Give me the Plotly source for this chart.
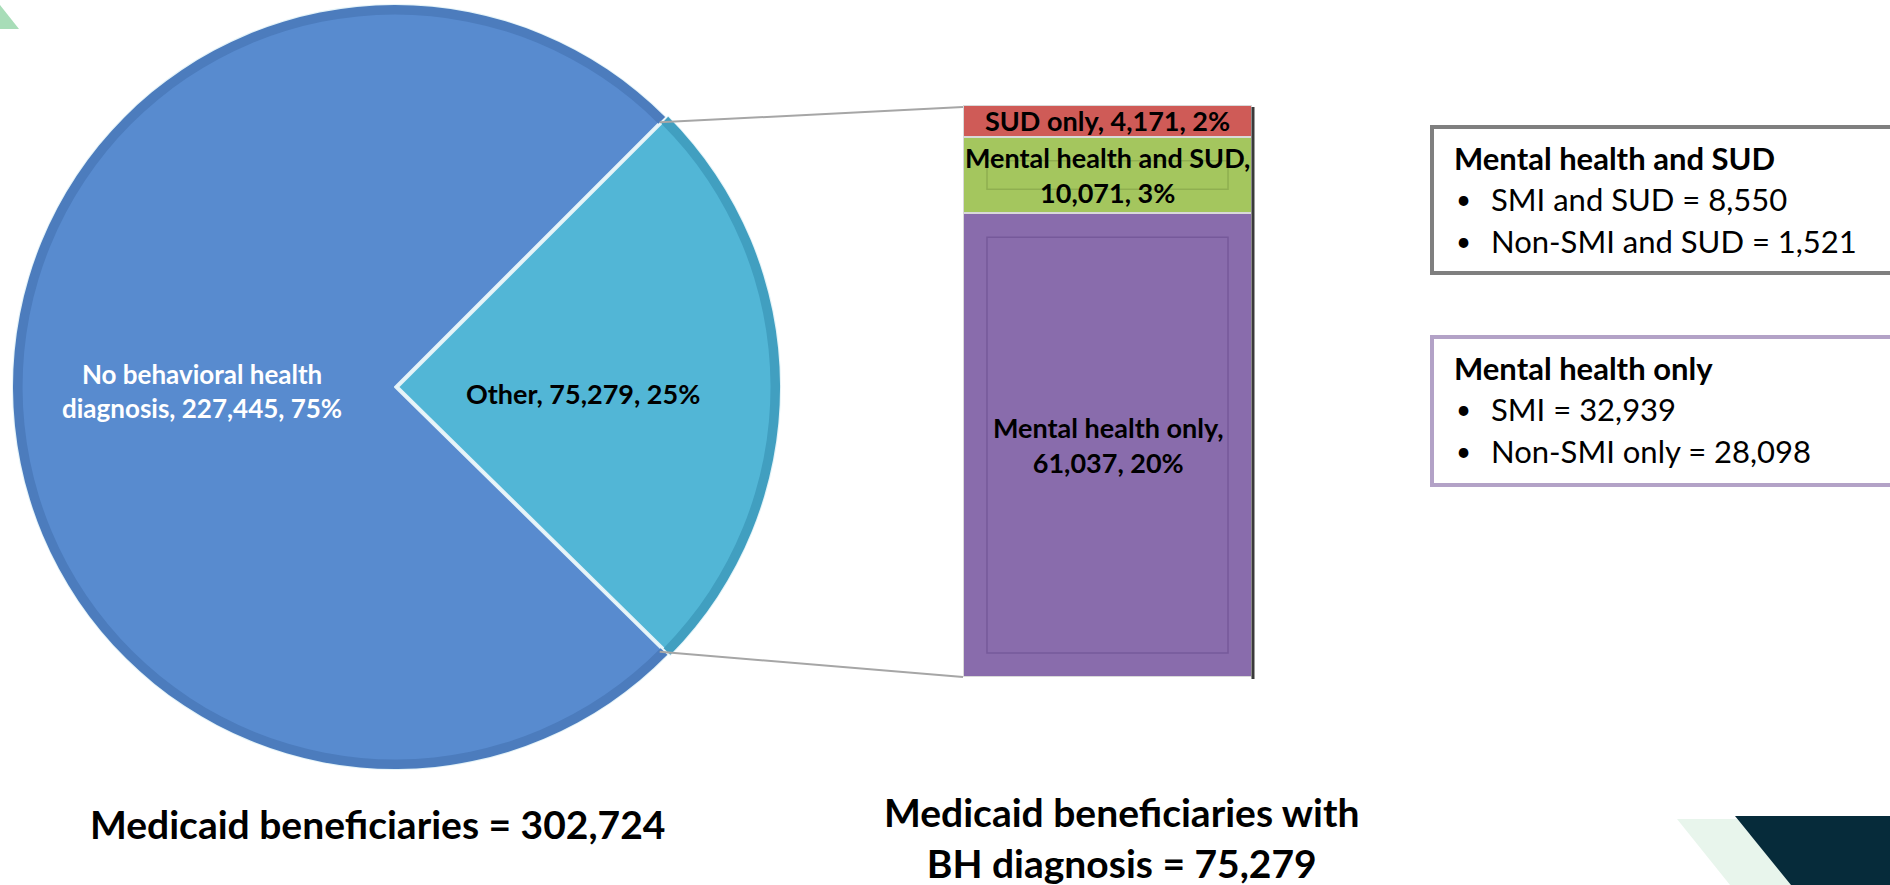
import math
import plotly.graph_objects as go

W, H = 1890, 885
FONT = "Lato"

# Pie: all Medicaid beneficiaries
pie_labels = ["Other", "No behavioral health diagnosis"]
pie_values = [75279, 227445]
pie_pcts = ["25%", "75%"]
pie_colors = ["#52B6D6", "#588BCF"]
pie_rim_colors = ["#419FC0", "#4C7CBD"]

# Bar: beneficiaries with a behavioral health diagnosis (bottom to top)
bar_labels = ["Mental health only", "Mental health and SUD", "SUD only"]
bar_values = [61037, 10071, 4171]
bar_pcts = ["20%", "3%", "2%"]
bar_colors = ["#896CAC", "#A4C65E", "#CF5B57"]
bar_frame_colors = ["#76599A", "#8FAF50", "#B04A46"]

# Breakdown boxes
box_titles = ["Mental health and SUD", "Mental health only"]
box_items = [
    [("SMI and SUD", 8550), ("Non-SMI and SUD", 1521)],
    [("SMI", 32939), ("Non-SMI only", 28098)],
]
box_colors = ["#7F7F7F", "#B3A2C7"]


def px(x):
    return x / W


def py(y):
    return 1 - y / H


def fmt(n):
    return f"{n:,}"


total_all = sum(pie_values)
total_bh = sum(bar_values)

# pie placement (pixels); the domain is widened by the pull so the
# drawn radius stays at pie_r
pie_cx, pie_cy, pie_r = 395, 387, 382
pull = 0.008
half = pie_r * (1 + pull)
bar_left, bar_right, bar_top, bar_bottom = 963, 1252, 105, 677
pie_domain = dict(x=[max(0, px(pie_cx - half)), px(pie_cx + half)],
                  y=[py(pie_cy + half), min(1, py(pie_cy - half))])

fig = go.Figure()

fig.add_trace(go.Pie(
    labels=pie_labels,
    values=pie_values,
    sort=False,
    direction="clockwise",
    rotation=45,
    pull=[pull, 0],
    marker=dict(colors=pie_colors, line=dict(color="#E4F3F8", width=2)),
    textinfo="none",
    hoverinfo="label+value+percent",
    showlegend=False,
    domain=pie_domain,
))

# shaded rim around the pie edge
fig.add_trace(go.Pie(
    labels=pie_labels,
    values=pie_values,
    sort=False,
    direction="clockwise",
    rotation=45,
    pull=[pull, 0],
    hole=0.975,
    marker=dict(colors=pie_rim_colors, line=dict(width=0)),
    textinfo="none",
    hoverinfo="skip",
    showlegend=False,
    domain=pie_domain,
))

for lab, val, col in zip(bar_labels, bar_values, bar_colors):
    fig.add_trace(go.Bar(
        x=[0], y=[val], name=lab, width=1,
        marker=dict(color=col, line=dict(color="#D9D9D9", width=2)),
        showlegend=False,
    ))

fig.update_layout(
    width=W, height=H, autosize=False,
    margin=dict(l=0, r=0, t=0, b=0),
    paper_bgcolor="white", plot_bgcolor="rgba(0,0,0,0)",
    barmode="stack",
    xaxis=dict(domain=[px(bar_left), px(bar_right)], range=[-0.5, 0.5],
               visible=False, fixedrange=True),
    yaxis=dict(domain=[py(bar_bottom), py(bar_top)], range=[0, total_bh],
               visible=False, fixedrange=True),
    font=dict(family=FONT),
)

annotations = []
shapes = []


def label(x, y, text, size, color="black", xanchor="center", **kw):
    annotations.append(dict(
        x=x, y=y, xref=kw.pop("xref", "paper"), yref=kw.pop("yref", "paper"),
        xanchor=xanchor, yanchor="middle", showarrow=False, text=text,
        font=dict(family=FONT, size=size, color=color), align="center", **kw))


# pie slice labels
label(px(202), py(391),
      f"<b>No behavioral health<br>diagnosis, {fmt(pie_values[1])}, {pie_pcts[1]}</b>",
      26, "white")
label(px(583), py(393),
      f"<b>{pie_labels[0]}, {fmt(pie_values[0])}, {pie_pcts[0]}</b>", 27)

# bar segment labels, centred in each segment, plus a bevel frame
bar_texts = [
    f"<b>{bar_labels[0]},<br>{fmt(bar_values[0])}, {bar_pcts[0]}</b>",
    f"<b>{bar_labels[1]},<br>{fmt(bar_values[1])}, {bar_pcts[1]}</b>",
    f"<b>{bar_labels[2]}, {fmt(bar_values[2])}, {bar_pcts[2]}</b>",
]
inset_x = 0.083
inset_y = total_bh * 24 / (bar_bottom - bar_top)
base = 0
for val, txt, fcol in zip(bar_values, bar_texts, bar_frame_colors):
    if val > 2.5 * inset_y:
        shapes.append(dict(type="rect", xref="x", yref="y",
                           x0=-0.5 + inset_x, x1=0.5 - inset_x,
                           y0=base + inset_y, y1=base + val - inset_y,
                           line=dict(color=fcol, width=1.5), layer="above"))
    label(0, base + val / 2, txt, 27, xref="x", yref="y")
    base += val

# totals under each chart
label(px(377), py(824), f"<b>Medicaid beneficiaries = {fmt(total_all)}</b>", 39)
label(px(1121), py(837),
      f"<b>Medicaid beneficiaries with<br>BH diagnosis = {fmt(total_bh)}</b>", 39)

# breakdown boxes on the right
box_tops = [127, 337]
box_bottoms = [273, 485]
for title, items, col, top, bot in zip(box_titles, box_items, box_colors,
                                        box_tops, box_bottoms):
    shapes.append(dict(type="rect", xref="paper", yref="paper",
                       x0=px(1432), x1=px(1900), y0=py(bot), y1=py(top),
                       line=dict(color=col, width=4), fillcolor="white",
                       layer="below"))
    label(px(1452), py(top + 31), f"<b>{title}</b>", 31, xanchor="left")
    for i, (name, val) in enumerate(items):
        yy = top + 72 + 42 * i
        label(px(1454), py(yy), "•", 26, xanchor="left")
        label(px(1489), py(yy), f"{name} = {fmt(val)}", 31, xanchor="left")

# connector lines from the pie's split slice to the bar
ang = math.radians(45)
edge_x = pie_cx + pie_r * math.cos(ang) * 0.98
for sgn, by in [(-1, bar_top + 2), (1, bar_bottom)]:
    edge_y = pie_cy + sgn * pie_r * math.sin(ang) * 0.98
    shapes.append(dict(type="line", xref="paper", yref="paper",
                       x0=px(edge_x), y0=py(edge_y), x1=px(bar_left), y1=py(by),
                       line=dict(color="#A6A6A6", width=2)))

# dark shadow along the right side of the bar
shapes.append(dict(type="line", xref="paper", yref="paper",
                   x0=px(bar_right + 1), x1=px(bar_right + 1),
                   y0=py(bar_bottom + 2), y1=py(bar_top + 2),
                   line=dict(color="#3A3A3A", width=3)))

# corner decorations
shapes.append(dict(type="path", xref="paper", yref="paper",
                   path=f"M {px(0)},{py(5)} L {px(19)},{py(29)} L {px(0)},{py(29)} Z",
                   fillcolor="#A8DDB8", line=dict(width=0)))
shapes.append(dict(type="path", xref="paper", yref="paper",
                   path=(f"M {px(1677)},{py(819)} L {px(1737)},{py(819)} "
                         f"L {px(1792)},{py(885)} L {px(1730)},{py(885)} Z"),
                   fillcolor="#E8F5EC", line=dict(width=0)))
shapes.append(dict(type="path", xref="paper", yref="paper",
                   path=(f"M {px(1735)},{py(816)} L {px(1890)},{py(816)} "
                         f"L {px(1890)},{py(885)} L {px(1791)},{py(885)} Z"),
                   fillcolor="#062B3A", line=dict(width=0)))

fig.update_layout(annotations=annotations, shapes=shapes)

fig.write_html("out.html")
